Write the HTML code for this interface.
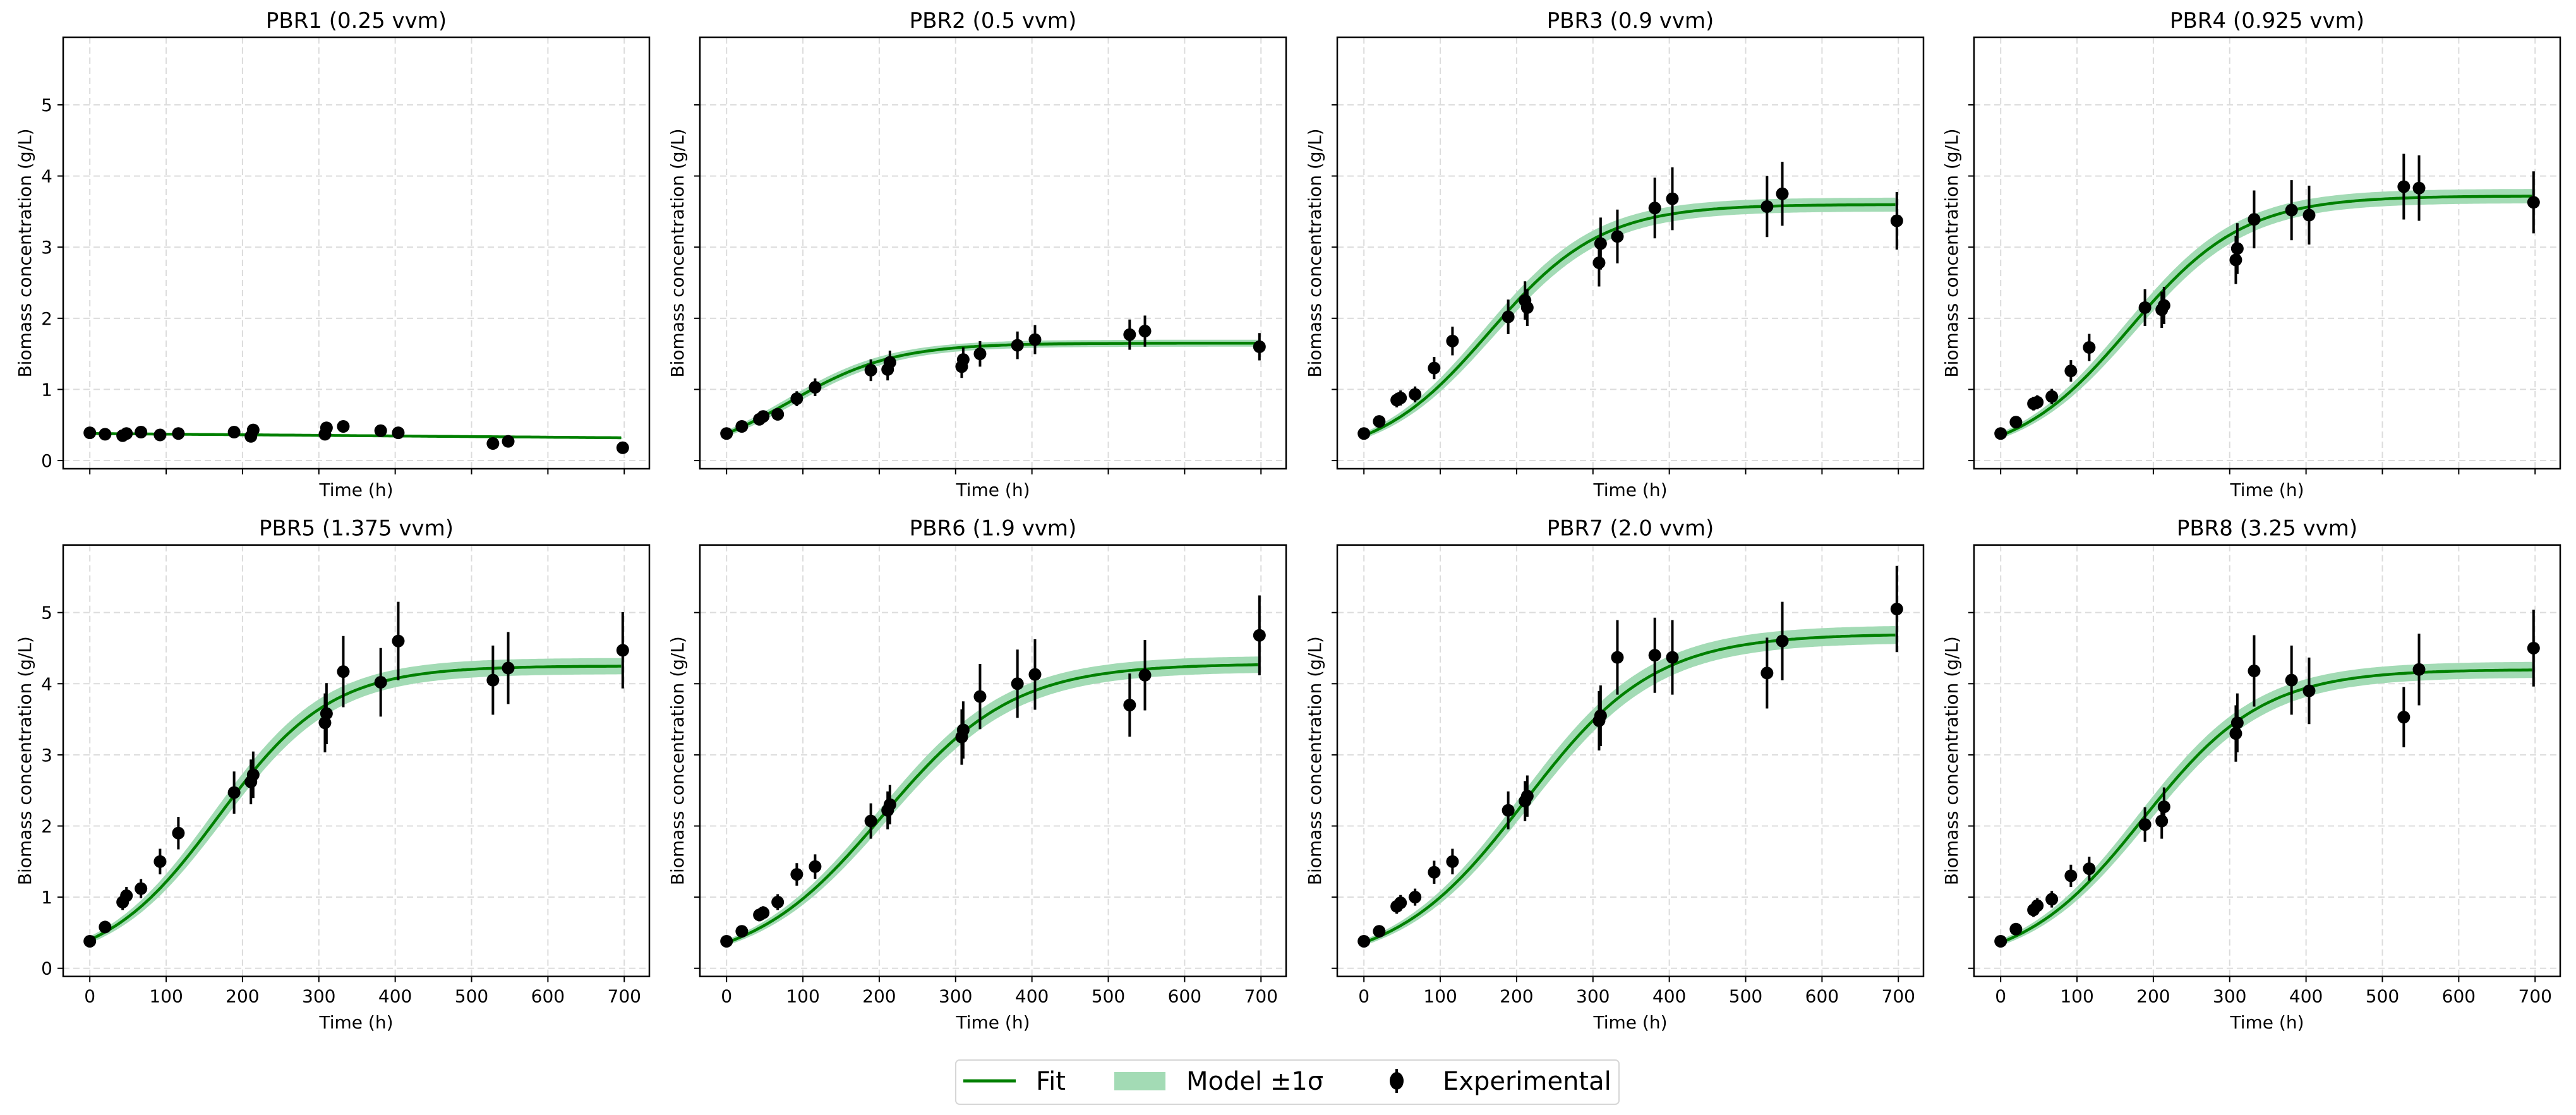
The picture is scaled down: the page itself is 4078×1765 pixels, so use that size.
<!DOCTYPE html>
<html><head><meta charset="utf-8"><style>
html,body{margin:0;padding:0;background:#fff;}
svg{display:block;}
text{font-family:"DejaVu Sans","Liberation Sans",sans-serif;fill:#000;}
</style></head><body>
<svg id="s" width="4078" height="1765" xmlns="http://www.w3.org/2000/svg">
<rect width="4078" height="1765" fill="#fff"/>
<g id="plots"></g>
<g id="legend">
<rect x="1513" y="1678" width="1050" height="70" rx="6" fill="#fff" stroke="#d6d6d6" stroke-width="2"/>
<line x1="1525" y1="1711" x2="1608" y2="1711" stroke="#008000" stroke-width="5"/>
<text x="1640" y="1725" font-size="40">Fit</text>
<rect x="1764" y="1697" width="81" height="29" fill="#a3dbb5"/>
<text x="1878" y="1725" font-size="40">Model ±1σ</text>
<line x1="2211" y1="1692" x2="2211" y2="1730" stroke="#000" stroke-width="4"/>
<ellipse cx="2211" cy="1711" rx="11" ry="14" fill="#000"/>
<text x="2284" y="1725" font-size="40">Experimental</text>
</g>
</svg>
<script>
var NS="http://www.w3.org/2000/svg";
var G=document.getElementById("plots");
function el(t,a,txt){var e=document.createElementNS(NS,t);for(var k in a)e.setAttribute(k,a[k]);if(txt!==undefined)e.textContent=txt;G.appendChild(e);return e;}
var T=[0,20,43,48,67,92,116,189,211,214,308,310,332,381,404,528,548,698];
var P=[
{t:"PBR1 (0.25 vvm)",y:[0.39,0.37,0.35,0.38,0.40,0.36,0.38,0.40,0.34,0.43,0.37,0.46,0.48,0.42,0.39,0.24,0.27,0.18],lin:true},
{t:"PBR2 (0.5 vvm)",y:[0.38,0.48,0.58,0.62,0.65,0.87,1.03,1.27,1.28,1.38,1.32,1.42,1.50,1.62,1.70,1.77,1.82,1.60],K:1.65,x0:0.38,r:0.0146},
{t:"PBR3 (0.9 vvm)",y:[0.38,0.55,0.85,0.88,0.93,1.30,1.68,2.02,2.25,2.15,2.78,3.05,3.15,3.55,3.68,3.57,3.75,3.37],K:3.6,x0:0.35,r:0.0136},
{t:"PBR4 (0.925 vvm)",y:[0.38,0.54,0.80,0.82,0.90,1.26,1.59,2.15,2.12,2.18,2.82,2.98,3.39,3.52,3.45,3.85,3.83,3.63],K:3.72,x0:0.35,r:0.0134},
{t:"PBR5 (1.375 vvm)",y:[0.38,0.58,0.93,1.02,1.12,1.50,1.90,2.47,2.62,2.72,3.45,3.58,4.17,4.02,4.60,4.05,4.22,4.47],K:4.25,x0:0.40,r:0.0135},
{t:"PBR6 (1.9 vvm)",y:[0.38,0.52,0.75,0.78,0.93,1.32,1.43,2.07,2.22,2.30,3.25,3.35,3.82,4.00,4.13,3.70,4.12,4.68],K:4.28,x0:0.36,r:0.0117},
{t:"PBR7 (2.0 vvm)",y:[0.38,0.52,0.87,0.92,1.00,1.35,1.50,2.22,2.35,2.42,3.48,3.55,4.37,4.40,4.37,4.15,4.60,5.05],K:4.7,x0:0.36,r:0.0118},
{t:"PBR8 (3.25 vvm)",y:[0.38,0.55,0.82,0.88,0.97,1.30,1.40,2.02,2.07,2.27,3.30,3.45,4.18,4.05,3.90,3.53,4.20,4.50],K:4.2,x0:0.36,r:0.0127}
];
var L=[100,1108,2117,3125],W=928,TOPS=[59,862.7],H=683;
var XMIN=-34.9,XMAX=732.9,YMIN=-0.115,YMAX=5.95;
P.forEach(function(p,i){
 var row=Math.floor(i/4),col=i%4,x0=L[col],y0=TOPS[row];
 function X(t){return x0+(t-XMIN)/(XMAX-XMIN)*W;}
 function Y(v){return y0+H-(v-YMIN)/(YMAX-YMIN)*H;}
 for(var k=0;k<=700;k+=100)el("line",{x1:X(k),x2:X(k),y1:y0,y2:y0+H,stroke:"#dcdcdc","stroke-width":2,"stroke-dasharray":"10,6"});
 for(var v=0;v<=5;v++)el("line",{x1:x0,x2:x0+W,y1:Y(v),y2:Y(v),stroke:"#dcdcdc","stroke-width":2,"stroke-dasharray":"10,6"});
 function f(t){if(p.lin)return 0.38-0.06*t/698;var A=(p.K-p.x0)/p.x0;return p.K/(1+A*Math.exp(-p.r*t));}
 function sg(t){if(p.lin)return 0.012;var v=f(t);var d=p.r*v*(1-v/p.K);return 0.025*v+0.008+6*d;}
 var up="",ln="";
 for(var t=0;t<=698;t+=3){var v=f(t),s=sg(t);
  up+=(t?"L":"M")+X(t).toFixed(1)+","+Y(v+s).toFixed(1);
  ln+=(t?"L":"M")+X(t).toFixed(1)+","+Y(v).toFixed(1);}
 var pts=[];for(var t=698;t>=0;t-=3){var v=f(t),s=sg(t);pts.push(X(t).toFixed(1)+","+Y(v-s).toFixed(1));}
 el("path",{d:up+"L"+pts.join("L")+"Z",fill:"#a3dbb5"});
 el("path",{d:ln,fill:"none",stroke:"#008000","stroke-width":4.5});
 T.forEach(function(t,j){var v=p.y[j],e=p.lin?0.03:0.12*v;
  el("line",{x1:X(t),x2:X(t),y1:Y(v+e),y2:Y(v-e),stroke:"#000","stroke-width":4});
  el("circle",{cx:X(t),cy:Y(v),r:10,fill:"#000"});});
 el("rect",{x:x0,y:y0,width:W,height:H,fill:"none",stroke:"#000","stroke-width":2.5});
 for(var k=0;k<=700;k+=100){el("line",{x1:X(k),x2:X(k),y1:y0+H,y2:y0+H+9,stroke:"#000","stroke-width":2});
  if(row==1)el("text",{x:X(k),y:y0+H+41,"font-size":28,"text-anchor":"middle"},String(k));}
 for(var v=0;v<=5;v++){el("line",{x1:x0,x2:x0-9,y1:Y(v),y2:Y(v),stroke:"#000","stroke-width":2});
  if(col==0)el("text",{x:x0-17,y:Y(v)+10,"font-size":28,"text-anchor":"end"},String(v));}
 el("text",{x:x0+W/2,y:y0-15,"font-size":34,"text-anchor":"middle"},p.t);
 el("text",{x:x0+W/2,y:row?1628:785,"font-size":28,"text-anchor":"middle"},"Time (h)");
 var lx=col==0?x0-51:x0-26,ly=y0+H/2;
 el("text",{x:lx,y:ly,"font-size":28,"text-anchor":"middle",transform:"rotate(-90 "+lx+" "+ly+")"},"Biomass concentration (g/L)");
});
</script>
</body></html>
